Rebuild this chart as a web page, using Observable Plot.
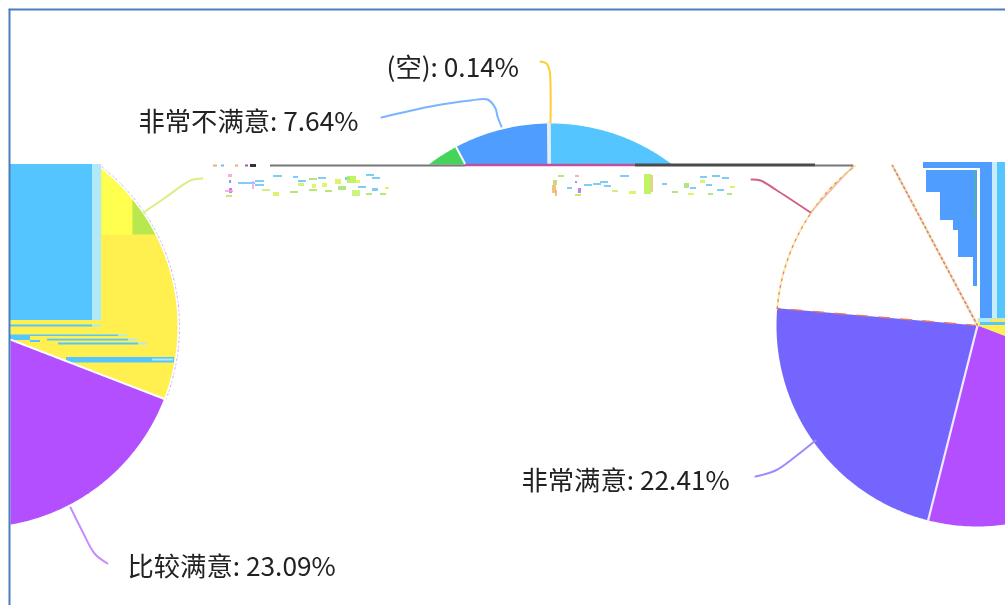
<!DOCTYPE html>
<html>
<head>
<meta charset="utf-8">
<script src="https://cdn.jsdelivr.net/npm/d3@7"></script>
<script src="https://cdn.jsdelivr.net/npm/@observablehq/plot@0.6"></script>
<style>html,body{margin:0;padding:0;background:#fff;overflow:hidden}svg{display:block;filter:blur(0.45px)}</style>
</head>
<body>
<div id="chart"></div>
<script>
// Pie data, clockwise from twelve o'clock
const categories = ["一般", "比较满意", "非常满意", "不满意", "非常不满意", "(空)"];
const shares = [30.86, 23.09, 22.41, 15.86, 7.64, 0.14];

// The same pie appears three times in the broken picture: centre x, centre y
const pieRadius = 201;
const leftPie = [-24, 326], midPie = [550, 324], rightPie = [977, 325];

// [category, pie, x1, x2, y1, y2, fill]: pie slice seen through a window
const pieces = [
  ["一般", leftPie, 10, 400, 165, 605, "#fff04f"],
  ["一般", leftPie, 101, 132, 165, 234, "#ffff4f"],
  ["一般", leftPie, 132, 200, 165, 234, "#b8e84f"],
  ["比较满意", leftPie, 10, 400, 165, 605, "#b44fff"],
  ["一般", midPie, 300, 800, 100, 164, "#54c5ff"],
  ["非常不满意", midPie, 300, 800, 100, 164, "#4f9dff"],
  ["不满意", midPie, 300, 800, 100, 164, "#44d45a"],
  ["一般", rightPie, 977, 1005, 318, 345, "#fff04f"],
  ["比较满意", rightPie, 700, 1005, 165, 605, "#b44fff"],
  ["非常满意", rightPie, 700, 1005, 165, 605, "#7465ff"]
];

// White slice boundaries: index into the running share, pie, window, stroke, width
const boundaries = [
  [1, leftPie, 10, 400, 165, 605, "#ffffff", 2],
  [2, rightPie, 700, 1005, 165, 605, "#f0eaff", 2.2],
  [4, midPie, 300, 800, 100, 164, "#ffffff", 2],
  [5, midPie, 300, 800, 100, 164, "#e8eef0", 3.5]
];

// Blocks of the damaged picture: x1, y1, x2, y2, fill
const leftBlocks = [
  [10,164,92,320,"#54c5ff"],[92,164,101,320,"#b0eaf8"],
  [10,324.5,92,326.5,"#54c5ff"],[92,324.5,101,326.5,"#b0eaf8"],
  [10,334.5,118,336,"#54c5ff"],[118,334.5,127,336,"#b0eaf8"],
  [10,336,30,340,"#54c5ff"],[47,338.7,128,340.5,"#54c5ff"],[128,338.7,137,340.5,"#b0eaf8"],
  [30,340,40,342,"#54c5ff"],[58,342.5,138,344.5,"#54c5ff"],[138,342.5,147,344.5,"#b0eaf8"],
  [66,357,174,362.5,"#54c5ff"],[152,358.5,173,360.5,"#b0eaf8"]
];
const rightBlocks = [
  [923,162,980,168,"#4f9dff"],[926,170,977,192,"#4f9dff"],[940,192,977,220,"#4f9dff"],
  [953,220,977,230,"#4f9dff"],[958,230,977,257,"#4f9dff"],[973,257,977,286,"#4f9dff"],
  [926,168,977,170,"#ffffff"],[975,170,976,218,"#3fc47a"],
  [980,162,992,318,"#4f9dff"],[992,162,997,320,"#c8ecf8"],[997,162,1005,318,"#54c5ff"],
  [978,318,1005,322,"#b0eaf8"],[990,319,1005,322,"#ffe84f"],[980,322,1005,325,"#54c5ff"],
  [995,325,1005,329,"#fff04f"]
];

// Axis-like line under the mid fragment: x1, x2, y, stroke, width
const baseLines = [
  [270,465,165,"#777777",2],[465,635,164.5,"#c04fa0",2.5],[635,815,164.5,"#4a4a4a",3],
  [815,853,165,"#777777",2],[213,217,165,"#e8b070",2],[221,224,165,"#70b8e8",2],
  [235,238,165,"#e8b070",2],[245,248,165,"#b050c0",2],[250,256,165,"#333333",3]
];

// Noise left where the two outer labels were lost: x, y, w, h, fill
const specks = [
  [228,174,4,3,"#f0a0c0"],[229,180,2,3,"#7080f0"],[238,182,9,2,"#60c0f0"],[247,182,8,2,"#60c0f0"],[255,180,9,2,"#60c0f0"],[255,184,9,2,"#60c0f0"],[252,181,2,8,"#f0a0f0"],
  [229,188,3,5,"#b060f0"],[225,190,8,2,"#f0a0e0"],[226,195,6,2,"#b8e84f"],[262,189,8,2,"#c8e860"],[273,192,6,4,"#d8f040"],[290,191,8,2,"#a0e060"],[273,175,9,2,"#60c0f0"],
  [293,176,5,2,"#60c0f0"],[298,180,8,2,"#60c0f0"],[298,183,6,3,"#c0f060"],[312,184,4,4,"#e0f040"],[309,178,8,2,"#a0e060"],[318,177,8,2,"#60c0f0"],[322,183,5,4,"#e0f040"],
  [309,189,8,2,"#a0e060"],[325,190,7,2,"#a0e060"],[335,179,6,5,"#d8f040"],[338,186,8,4,"#a0e060"],[345,177,5,3,"#60c0f0"],[347,176,9,7,"#b0f040"],[355,180,5,3,"#e0f040"],
  [352,190,8,6,"#c0f060"],[366,174,8,2,"#60c0f0"],[372,177,8,2,"#60c0f0"],[358,186,8,2,"#60c0f0"],[372,188,6,3,"#60c0f0"],[366,193,6,2,"#a0e060"],[380,193,6,2,"#a0e060"],[385,187,4,2,"#d8f040"],
  [558,175,6,2,"#a0e060"],[553,180,4,5,"#c0d060"],[552,185,4,8,"#f0b060"],[555,190,2,6,"#f0b060"],[575,175,4,2,"#f0a0a0"],[575,181,2,2,"#7080f0"],[567,187,5,2,"#60c0f0"],[584,184,8,2,"#60c0f0"],
  [593,183,8,2,"#60c0f0"],[600,181,8,2,"#60c0f0"],[604,185,7,2,"#60c0f0"],[578,188,3,5,"#b060f0"],[575,194,6,2,"#b8e84f"],[612,190,6,2,"#c8e860"],[620,175,9,2,"#60c0f0"],[629,191,7,3,"#d8f040"],
  [644,174,7,20,"#b0f040"],[651,175,2,17,"#e8c070"],[662,183,5,2,"#60c0f0"],[672,191,6,2,"#a0e060"],[684,183,5,5,"#a0e060"],[690,187,6,2,"#60c0f0"],[700,176,7,2,"#60c0f0"],[706,184,6,2,"#60c0f0"],
  [700,180,5,3,"#d8f040"],[712,175,8,2,"#60c0f0"],[722,177,7,2,"#60c0f0"],[717,189,7,2,"#60c0f0"],[727,193,5,2,"#a0e060"],[708,193,5,2,"#a0e060"],[688,193,6,2,"#d8f040"],[730,186,5,2,"#d8f040"]
];

// Outer labels: text, x, y
const labelTexts = ["(空): 0.14%", "非常不满意: 7.64%", "非常满意: 22.41%", "比较满意: 23.09%"];
const labelX = [386, 138, 521, 127];
const labelY = [68, 122, 481, 567];

// Leader lines: stroke, then x,y pairs
const leaders = [
  ["#7ab4ff", [[381,117],[430,106],[470,100],[487,99],[495,108],[497,116],[501,126]]],
  ["#ffcc33", [[540,61],[546,63],[549,70],[550,85],[550,122]]],
  ["#9a8cff", [[755,476],[775,470],[795,456],[815,440]]],
  ["#c88cff", [[70,507],[82,531],[94,553],[107,563]]],
  ["#d8f080", [[202,178],[190,180],[165,197],[143,212]]],
  ["#d0608a", [[751,179],[760,180],[775,189],[810,212]]]
];
const lostSliceEdge = [[810,212],[853,165]];

// Frame edges: x1, y1, x2, y2
const frameEdges = [[9,9,1005,9],[9,9,9,605]];

// ---- geometry from the shares
const total = d3.sum(shares);
const starts = d3.cumsum([0, ...shares]);
const toAngle = s => (s / total) * 2 * Math.PI;
const onCircle = ([cx, cy], a, r = pieRadius) => [cx + r * Math.sin(a), cy - r * Math.cos(a)];
function sector(cat, pie) {
  const i = categories.indexOf(cat);
  const a0 = toAngle(starts[i]), a1 = toAngle(starts[i + 1]);
  const n = Math.max(2, Math.ceil((a1 - a0) * 90));
  const pts = [pie];
  for (let k = 0; k <= n; k++) pts.push(onCircle(pie, a0 + (a1 - a0) * k / n));
  return pts;
}
function clipPolygon(poly, x1, x2, y1, y2) {
  const edges = [
    [p => p[0] >= x1, (p, q) => { const t = (x1 - p[0]) / (q[0] - p[0]); return [x1, p[1] + t * (q[1] - p[1])]; }],
    [p => p[0] <= x2, (p, q) => { const t = (x2 - p[0]) / (q[0] - p[0]); return [x2, p[1] + t * (q[1] - p[1])]; }],
    [p => p[1] >= y1, (p, q) => { const t = (y1 - p[1]) / (q[1] - p[1]); return [p[0] + t * (q[0] - p[0]), y1]; }],
    [p => p[1] <= y2, (p, q) => { const t = (y2 - p[1]) / (q[1] - p[1]); return [p[0] + t * (q[0] - p[0]), y2]; }]
  ];
  let out = poly;
  for (const [inside, cut] of edges) {
    const src = out; out = [];
    src.forEach((p, i) => {
      const q = src[(i + 1) % src.length];
      if (inside(p)) { out.push(p); if (!inside(q)) out.push(cut(p, q)); }
      else if (inside(q)) out.push(cut(p, q));
    });
  }
  return out;
}
const piecePoints = pieces.flatMap(([cat, pie, x1, x2, y1, y2, fill], id) => {
  const poly = clipPolygon(sector(cat, pie), x1, x2, y1, y2);
  return [...poly, poly[0]].map(([x, y]) => ({x, y, id, fill}));
});
const toXY = ([x, y]) => ({x, y});
const spoke = (pie, a, x1 = 0, x2 = 1005, y1 = 165, y2 = 605) =>
  d3.range(0, pieRadius + 1).map(r => onCircle(pie, a, r))
    .filter(([x, y]) => x >= x1 && x <= x2 && y >= y1 && y <= y2).map(toXY);
const boundaryPoints = boundaries.flatMap(([k, pie, x1, x2, y1, y2, stroke, w], id) =>
  spoke(pie, toAngle(starts[k]), x1, x2, y1, y2).map(p => ({...p, id, stroke, w})));

// the slice that lost its fill on the right, and the left arc's fringe
const iLost = categories.indexOf("不满意");
const a0 = toAngle(starts[iLost]), a1 = toAngle(starts[iLost + 1]);
const arcOf = (pie, from, to, r) => d3.range(0, 61).map(k => toXY(onCircle(pie, from + (to - from) * k / 60, r))).filter(p => p.y >= 165);
const arcRight = arcOf(rightPie, a0, a1, pieRadius);
const arcLeftFringe = arcOf(leftPie, toAngle(5), toAngle(30.8), pieRadius + 2);
const lineOf = (pts, o) => Plot.line(pts, {x: d => d[0], y: d => d[1], ...o});
const rectOf = (rows) => Plot.rect(rows, {x1: d => d[0], y1: d => d[1], x2: d => d[2], y2: d => d[3], fill: d => d[4]});

const chart = Plot.plot({
  width: 1005, height: 605,
  margin: 0,
  x: {domain: [0, 1005], range: [0, 1005], axis: null},
  y: {domain: [0, 605], range: [0, 605], axis: null},
  marks: [
    Plot.line(piecePoints.filter(d => d.id <= 2), {x: "x", y: "y", z: "id", fill: "fill", stroke: "none"}),
    rectOf(leftBlocks),
    Plot.line(piecePoints.filter(d => d.id > 2), {x: "x", y: "y", z: "id", fill: "fill", stroke: "none"}),
    Plot.line(boundaryPoints, {x: "x", y: "y", z: "id", stroke: "stroke", strokeWidth: "w"}),
    rectOf(rightBlocks),
    Plot.line(arcLeftFringe, {x: "x", y: "y", stroke: "#f0a0f0", strokeWidth: 1, strokeDasharray: "2 7"}),
    Plot.line(arcLeftFringe, {x: "x", y: "y", stroke: "#9fe8f8", strokeWidth: 1, strokeDasharray: "2 7", strokeDashoffset: 4}),
    Plot.line(arcRight, {x: "x", y: "y", stroke: "#fbf08c", strokeWidth: 2}),
    Plot.line(arcRight, {x: "x", y: "y", stroke: "#e070d8", strokeWidth: 1.2, strokeDasharray: "2 5"}),
    Plot.line(spoke(rightPie, a0), {x: "x", y: "y", stroke: "#e07a6a", strokeWidth: 1.4, strokeDasharray: "11 11"}),
    Plot.line(spoke(rightPie, a1), {x: "x", y: "y", stroke: "#f0f0a0", strokeWidth: 3}),
    Plot.line(spoke(rightPie, a1), {x: "x", y: "y", stroke: "#e070c0", strokeWidth: 1.5, strokeDasharray: "2 3"}),
    lineOf(lostSliceEdge, {stroke: "#f0c0a0", strokeWidth: 1.5}),
    Plot.ruleY(baseLines, {x1: d => d[0], x2: d => d[1], y: d => d[2], stroke: d => d[3], strokeWidth: d => d[4]}),
    Plot.rect(specks, {x1: d => d[0], y1: d => d[1], x2: d => d[0] + d[2], y2: d => d[1] + d[3], fill: d => d[4], fillOpacity: 0.8}),
    ...leaders.map(([stroke, pts]) => lineOf(pts, {stroke, strokeWidth: 2, curve: "catmull-rom"})),
    ...frameEdges.map(([x1, y1, x2, y2]) => lineOf([[x1, y1], [x2, y2]], {stroke: "#4a7ebb", strokeWidth: 2})),
    Plot.text(labelTexts, {
      x: (d, i) => labelX[i], y: (d, i) => labelY[i], text: d => d,
      textAnchor: "start", lineAnchor: "middle", fontSize: 26.3,
      fontFamily: "'Noto Sans CJK SC','Noto Sans',sans-serif", fill: "#222222"
    })
  ]
});
document.getElementById("chart").append(chart);
</script>
</body>
</html>
